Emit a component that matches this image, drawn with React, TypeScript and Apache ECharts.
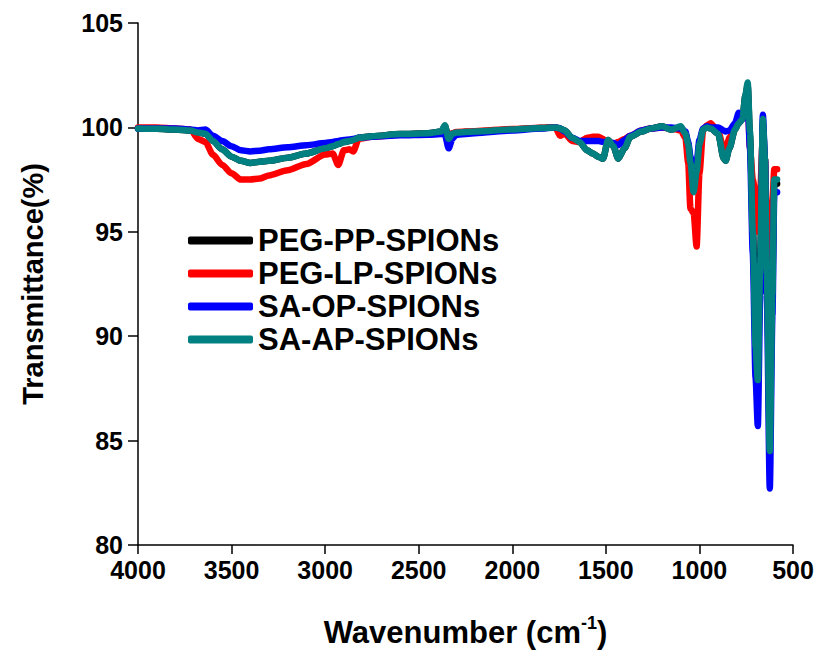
import React, { useEffect, useRef } from "react";
import * as echarts from "echarts";

// Wavenumber grid (cm^-1), shared by every spectrum
const wavenumbers = [
  4000, 3900, 3800, 3720, 3680, 3640, 3600, 3550, 3500, 3450,
  3400, 3350, 3300, 3200, 3100, 3000, 2960, 2930, 2900, 2870,
  2850, 2820, 2750, 2600, 2450, 2380, 2360, 2340, 2320, 2300,
  2200, 2000, 1850, 1770, 1745, 1720, 1680, 1640, 1600, 1570,
  1540, 1515, 1488, 1460, 1434, 1400, 1370, 1310, 1260, 1200,
  1150, 1100, 1075, 1060, 1048, 1031, 1015, 1000, 980, 960,
  940, 900, 870, 860, 840, 810, 790, 770, 755, 742,
  730, 715, 700, 688, 675, 661, 650, 640, 624, 610,
  600, 585,
];

// Transmittance (%) per sample
const pegPP = [
  99.95, 99.93, 99.9, 99.85, 99.75, 99.7, 99.35, 98.95, 98.6, 98.4,
  98.3, 98.35, 98.4, 98.55, 98.75, 99.0, 99.1, 99.2, 99.3, 99.35,
  99.4, 99.5, 99.58, 99.68, 99.72, 99.8, 100.05, 99.5, 99.7, 99.75,
  99.8, 99.9, 99.97, 100.0, 99.95, 99.85, 99.5, 99.3, 98.9, 98.75,
  98.6, 98.5, 99.4, 99.1, 98.5, 99.0, 99.55, 99.8, 99.95, 100.05,
  99.9, 100.0, 99.7, 99.2, 98.3, 97.0, 97.9, 99.2, 99.9, 100.0,
  99.95, 99.7, 98.5, 98.4, 99.0, 99.9, 100.2, 100.4, 101.5, 102.0,
  99.6, 95.5, 90.0, 88.5, 94.0, 100.2, 98.5, 93.5, 85.5, 93.0,
  97.3, 97.3,
];

const pegLP = [
  100.0, 100.0, 99.95, 99.9, 99.45, 99.3, 98.7, 98.2, 97.8, 97.5,
  97.5, 97.55, 97.7, 97.95, 98.25, 98.7, 98.75, 98.2, 98.9, 98.95,
  98.85, 99.45, 99.55, 99.65, 99.7, 99.75, 99.8, 99.65, 99.72, 99.78,
  99.82, 99.92, 99.98, 100.0, 99.6, 99.7, 99.35, 99.3, 99.5, 99.55,
  99.55, 99.45, 99.2, 99.2, 99.3, 99.45, 99.6, 99.85, 99.95, 100.0,
  99.95, 99.85, 99.5, 98.3, 96.1, 95.9, 94.3, 97.8, 99.9, 100.1,
  100.2, 99.8, 99.0, 98.9, 99.5, 100.0, 100.3, 100.5, 101.0, 101.4,
  99.0, 97.5, 96.8, 95.0, 97.0, 99.5, 98.5, 95.0, 93.0, 96.5,
  98.0, 98.0,
];

const saOP = [
  99.95, 99.95, 99.95, 99.9, 99.85, 99.9, 99.6, 99.35, 99.1, 98.9,
  98.85, 98.88, 98.95, 99.05, 99.15, 99.25, 99.3, 99.35, 99.4, 99.42,
  99.45, 99.5, 99.55, 99.62, 99.65, 99.68, 99.65, 99.0, 99.45, 99.65,
  99.72, 99.85, 99.95, 100.0, 99.95, 99.8, 99.5, 99.35, 99.35, 99.35,
  99.35, 99.3, 99.3, 99.25, 99.15, 99.4, 99.6, 99.85, 99.95, 100.0,
  100.0, 99.95, 99.8, 99.3, 98.6, 97.4, 98.3, 99.4, 99.95, 100.05,
  100.0, 100.0, 99.85, 99.8, 99.85, 100.2, 100.7, 100.4, 100.9, 101.2,
  99.0, 94.0, 88.0, 85.7, 92.0, 100.6, 98.5, 92.0, 82.7, 91.0,
  96.9, 96.9,
];

const saAP = [
  99.95, 99.93, 99.9, 99.85, 99.75, 99.7, 99.35, 98.95, 98.6, 98.4,
  98.3, 98.35, 98.4, 98.55, 98.75, 99.0, 99.1, 99.2, 99.3, 99.35,
  99.4, 99.5, 99.58, 99.68, 99.72, 99.8, 100.1, 99.45, 99.7, 99.75,
  99.8, 99.9, 99.97, 100.0, 99.95, 99.85, 99.5, 99.3, 98.9, 98.75,
  98.6, 98.5, 99.4, 99.1, 98.5, 99.0, 99.55, 99.8, 99.95, 100.05,
  99.9, 100.05, 99.7, 99.2, 98.3, 96.9, 97.9, 99.2, 99.9, 100.0,
  99.95, 99.7, 98.5, 98.4, 99.0, 99.9, 100.2, 100.4, 101.5, 102.15,
  99.8, 95.0, 89.5, 87.9, 93.5, 100.4, 98.5, 93.0, 84.5, 92.0,
  97.5, 97.5,
];

const seriesNames = ["PEG-PP-SPIONs", "PEG-LP-SPIONs", "SA-OP-SPIONs", "SA-AP-SPIONs"];
const seriesColors = ["#000000", "#ff0000", "#0000ff", "#008080"];
const seriesValues = [pegPP, pegLP, saOP, saAP];

const FONT = '"Liberation Sans", Arial, Helvetica, sans-serif';

export default function App() {
  const ref = useRef<HTMLDivElement>(null);

  useEffect(() => {
    document.body.style.margin = "0";
    if (!ref.current) return;
    const chart = echarts.init(ref.current, undefined, { renderer: "svg" });

    const series = seriesNames.map((name, i) => ({
      name,
      type: "line" as const,
      data: wavenumbers.map((w, k) => [w, seriesValues[i][k]]),
      showSymbol: false,
      symbol: "none",
      smooth: 0.25,
      smoothMonotone: "x" as const,
      color: seriesColors[i],
      lineStyle: { width: 6.5, color: seriesColors[i], cap: "round" as const, join: "round" as const },
      z: 2 + i,
    }));

    chart.setOption({
      animation: false,
      backgroundColor: "#ffffff",
      textStyle: { fontFamily: FONT },
      grid: { left: 138, right: 29, top: 23, bottom: 106, containLabel: false },
      legend: {
        data: seriesNames,
        orient: "vertical",
        left: 188,
        top: 225,
        padding: 0,
        itemWidth: 65,
        itemHeight: 8,
        itemGap: 2,
        icon: "roundRect",
        selectedMode: false,
        textStyle: {
          fontFamily: FONT,
          fontSize: 31,
          fontWeight: "bold",
          color: "#000",
          lineHeight: 30,
        },
      },
      xAxis: {
        type: "value",
        inverse: true,
        min: 500,
        max: 4000,
        interval: 500,
        name: "Wavenumber (cm{sup|-1})",
        nameLocation: "middle",
        nameGap: 69,
        nameTextStyle: {
          fontFamily: FONT,
          fontSize: 31,
          fontWeight: "bold",
          color: "#000",
          lineHeight: 36,
          rich: {
            sup: {
              fontFamily: FONT,
              fontSize: 18,
              fontWeight: "bold",
              color: "#000",
              verticalAlign: "top",
              lineHeight: 36,
            },
          },
        },
        axisLine: { show: true, onZero: false, lineStyle: { color: "#000", width: 1.5 } },
        axisTick: { show: true, inside: false, length: 9, lineStyle: { color: "#000", width: 1.5 } },
        axisLabel: {
          fontFamily: FONT,
          fontSize: 25,
          fontWeight: "bold",
          color: "#000",
          margin: 12,
          formatter: (v: number) => String(v),
        },
        splitLine: { show: false },
      },
      yAxis: {
        type: "value",
        min: 80,
        max: 105,
        interval: 5,
        name: "Transmittance(%)",
        nameLocation: "middle",
        nameGap: 91,
        nameTextStyle: {
          fontFamily: FONT,
          fontSize: 29,
          fontWeight: "bold",
          color: "#000",
        },
        axisLine: { show: true, onZero: false, lineStyle: { color: "#000", width: 1.5 } },
        axisTick: { show: true, inside: false, length: 10, lineStyle: { color: "#000", width: 1.5 } },
        axisLabel: {
          fontFamily: FONT,
          fontSize: 25,
          fontWeight: "bold",
          color: "#000",
          margin: 15,
          formatter: (v: number) => String(v),
        },
        splitLine: { show: false },
      },
      series,
    });

    return () => chart.dispose();
  }, []);

  return <div ref={ref} style={{ width: 822, height: 655 }} />;
}
